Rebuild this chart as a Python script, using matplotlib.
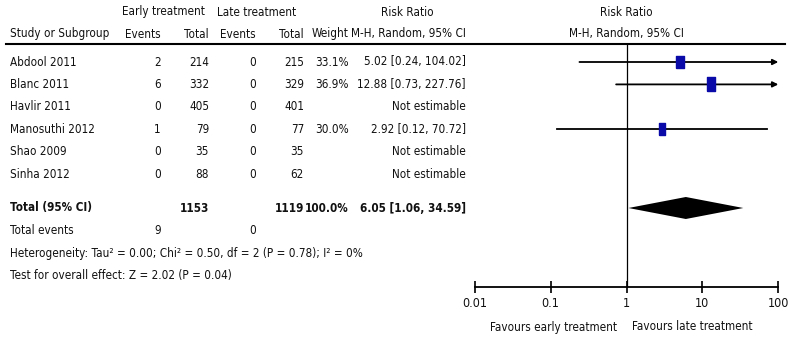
import numpy as np
import matplotlib.pyplot as plt
from matplotlib.path import Path

# forest plot data
studies = ['Abdool 2011', 'Blanc 2011', 'Havlir 2011', 'Manosuthi 2012', 'Shao 2009', 'Sinha 2012']
early_events = [2, 6, 0, 1, 0, 0]
early_total = [214, 332, 405, 79, 35, 88]
late_events = [0, 0, 0, 0, 0, 0]
late_total = [215, 329, 401, 77, 35, 62]
weight = [33.1, 36.9, np.nan, 30.0, np.nan, np.nan]
rr = [5.02, 12.88, np.nan, 2.92, np.nan, np.nan]
ci_lo = [0.24, 0.73, np.nan, 0.12, np.nan, np.nan]
ci_hi = [104.02, 227.76, np.nan, 70.72, np.nan, np.nan]

total_early, total_late, total_weight = 1153, 1119, 100.0
total_rr, total_lo, total_hi = 6.05, 1.06, 34.59
events_early, events_late = 9, 0
hetero = 'Heterogeneity: Tau\u00b2 = 0.00; Chi\u00b2 = 0.50, df = 2 (P = 0.78); I\u00b2 = 0%'
overall = 'Test for overall effect: Z = 2.02 (P = 0.04)'
ticks = [0.01, 0.1, 1, 10, 100]
tick_labels = ['0.01', '0.1', '1', '10', '100']

plt.rcParams['font.family'] = ['DejaVu Sans']
plt.rcParams['font.stretch'] = 'condensed'
plt.rcParams['font.size'] = 8.4
plt.rcParams['text.color'] = '#111111'
plt.rcParams['xtick.color'] = '#111111'

W, H = 789, 340
fig = plt.figure(figsize=(W / 100, H / 100), dpi=100)

# background axes in pixel units for the table
tb = fig.add_axes([0, 0, 1, 1])
tb.set_xlim(0, W)
tb.set_ylim(H, 0)
tb.axis('off')

# row layout (pixels)
row_y = 62 + 22.4 * np.arange(len(studies))
y_total = 208
y_tev = 230
y_het = 253
y_test = 275
col_study, col_ee, col_et, col_le, col_lt, col_w, col_rr = 10, 161, 209, 256, 304, 349, 466

tb.text(163, 12, 'Early treatment', ha='center', va='center')
tb.text(257, 12, 'Late treatment', ha='center', va='center')
tb.text(407, 12, 'Risk Ratio', ha='center', va='center')
tb.text(626, 12, 'Risk Ratio', ha='center', va='center')
heads = ['Events', 'Total', 'Events', 'Total', 'Weight', 'M-H, Random, 95% CI']
for x, h in zip([col_ee, col_et, col_le, col_lt, col_w, col_rr], heads):
    tb.text(x, 34, h, ha='right', va='center')
tb.text(col_study, 34, 'Study or Subgroup', ha='left', va='center')
tb.text(626, 34, 'M-H, Random, 95% CI', ha='center', va='center')
tb.plot([6, 785], [43.5, 43.5], color='black', lw=1.5)

for i, name in enumerate(studies):
    y = row_y[i]
    tb.text(col_study, y, name, ha='left', va='center')
    tb.text(col_ee, y, str(early_events[i]), ha='right', va='center')
    tb.text(col_et, y, str(early_total[i]), ha='right', va='center')
    tb.text(col_le, y, str(late_events[i]), ha='right', va='center')
    tb.text(col_lt, y, str(late_total[i]), ha='right', va='center')
    if np.isnan(rr[i]):
        tb.text(col_rr, y, 'Not estimable', ha='right', va='center')
    else:
        tb.text(col_w, y, f'{weight[i]:.1f}%', ha='right', va='center')
        tb.text(col_rr, y, f'{rr[i]:.2f} [{ci_lo[i]:.2f}, {ci_hi[i]:.2f}]', ha='right', va='center')

tb.text(col_study, y_total, 'Total (95% CI)', ha='left', va='center', fontweight='bold')
tb.text(col_et, y_total, str(total_early), ha='right', va='center', fontweight='bold')
tb.text(col_lt, y_total, str(total_late), ha='right', va='center', fontweight='bold')
tb.text(col_w, y_total, f'{total_weight:.1f}%', ha='right', va='center', fontweight='bold')
tb.text(col_rr, y_total, f'{total_rr:.2f} [{total_lo:.2f}, {total_hi:.2f}]', ha='right', va='center', fontweight='bold')
tb.text(col_study, y_tev, 'Total events', ha='left', va='center')
tb.text(col_ee, y_tev, str(events_early), ha='right', va='center')
tb.text(col_le, y_tev, str(events_late), ha='right', va='center')
tb.text(col_study, y_het, hetero, ha='left', va='center')
tb.text(col_study, y_test, overall, ha='left', va='center')

# forest axes: log x, y in pixel rows
x0, x1, ytop, ybot = 474.7, 778.3, 44, 287
ax = fig.add_axes([x0 / W, 1 - ybot / H, (x1 - x0) / W, (ybot - ytop) / H])
ax.set_xscale('log')
ax.set_xlim(0.01, 100)
ax.set_ylim(ybot, ytop)
ax.patch.set_alpha(0)
for s in ['top', 'left', 'right']:
    ax.spines[s].set_visible(False)
ax.spines['bottom'].set_linewidth(1.3)
ax.set_yticks([])
ax.set_xticks(ticks)
ax.set_xticklabels(tick_labels, fontsize=9)
ax.minorticks_off()
ax.tick_params(axis='x', direction='inout', length=9, width=1.3, pad=3)
ax.axvline(1, color='black', lw=0.9)

box = Path([(-0.55, -1), (0.55, -1), (0.55, 1), (-0.55, 1), (-0.55, -1)])
for i in range(len(studies)):
    if np.isnan(rr[i]):
        continue
    y = row_y[i]
    hi = min(ci_hi[i], 100)
    if ci_hi[i] > 100:
        ax.annotate('', xy=(hi, y), xytext=(ci_lo[i], y),
                    arrowprops=dict(arrowstyle='-|>', color='black', lw=1.3,
                                    mutation_scale=8, shrinkA=0, shrinkB=0))
    else:
        ax.plot([ci_lo[i], hi], [y, y], color='black', lw=1.3)
    ax.plot(rr[i], y, marker=box, markersize=6 + weight[i] / 10,
            color='#0a0aa8', markeredgecolor='#0a0aa8', zorder=3)

dh = 11
ax.fill([total_lo, total_rr, total_hi, total_rr],
        [y_total, y_total - dh, y_total, y_total + dh], color='black', lw=0)

fig.text(617 / W, 1 - 327 / H, 'Favours early treatment', ha='right', va='center')
fig.text(632 / W, 1 - 327 / H, 'Favours late treatment', ha='left', va='center')

fig.savefig('out.png', dpi=100)
